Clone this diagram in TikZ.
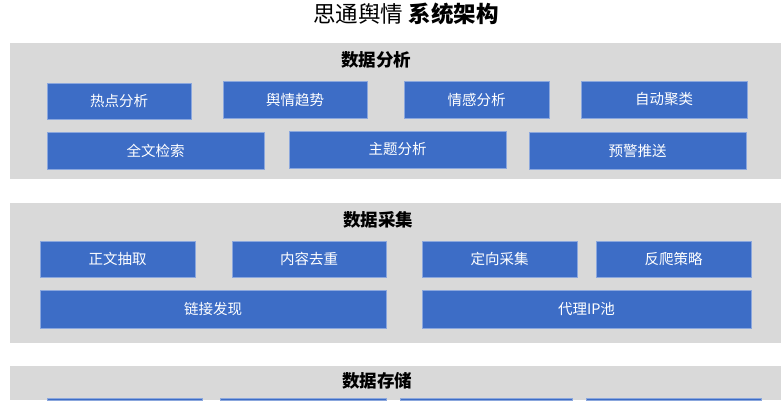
\documentclass[tikz,border=0pt]{standalone}
\usepackage{fontspec}
\setmainfont{Noto Sans CJK SC}
\definecolor{panelgray}{HTML}{D9D9D9}
\definecolor{boxblue}{HTML}{3D6DC6}
\tikzset{
  panel/.style={fill=panelgray, draw=none},
  blk/.style={fill=boxblue, draw=boxblue!60!white, line width=0.6pt, text=white, inner sep=0pt,
    font=\fontsize{14.5}{16}\selectfont},
  ptitle/.style={font=\fontsize{17.5}{20}\selectfont\bfseries, inner sep=0pt},
  mtitle/.style={font=\fontsize{22.5}{24}\selectfont, inner sep=0pt}
}
% \mkblk{name}{x1}{y1}{x2}{y2}{text}
\newcommand{\mkblk}[6]{%
  \node[blk, minimum width={(#4-#2)*1pt}, minimum height={(#5-#3)*1pt}] (#1) at ({(#2+#4)/2},{(#3+#5)/2}) {#6};}
\begin{document}
\begin{tikzpicture}[x=1pt,y=-1pt]
\useasboundingbox (0,0) rectangle (784,400);
% title
\node[mtitle] (title) at (406,14) {思通舆情 \textbf{系统架构}};
% panel 1
\fill[panel] (10,43) rectangle (781,179);
\node[ptitle] (p1t) at (376,60) {数据分析};
\mkblk{a1}{47}{83}{191}{119}{热点分析}
\mkblk{a2}{223}{81}{367}{118}{舆情趋势}
\mkblk{a3}{404}{81}{549}{118}{情感分析}
\mkblk{a4}{581}{81}{747}{118}{自动聚类}
\mkblk{a5}{47}{132}{264}{169}{全文检索}
\mkblk{a6}{289}{131}{506}{168}{主题分析}
\mkblk{a7}{529}{132}{746}{169}{预警推送}
% panel 2
\fill[panel] (10,203) rectangle (781,343);
\node[ptitle] (p2t) at (378,220) {数据采集};
\mkblk{b1}{40}{241}{195}{277}{正文抽取}
\mkblk{b2}{232}{241}{386}{277}{内容去重}
\mkblk{b3}{422}{241}{577}{277}{定向采集}
\mkblk{b4}{596}{241}{751}{277}{反爬策略}
\mkblk{b5}{40}{290}{386}{328}{链接发现}
\mkblk{b6}{422}{290}{751}{328}{代理IP池}
% panel 3
\fill[panel] (10,366) rectangle (781,400);
\node[ptitle] (p3t) at (377,381) {数据存储};
\mkblk{c1}{47}{398}{202}{400.5}{}
\mkblk{c2}{220}{398}{386}{400.5}{}
\mkblk{c3}{400}{398}{572}{400.5}{}
\mkblk{c4}{586}{398}{761}{400.5}{}
\end{tikzpicture}
\end{document}
